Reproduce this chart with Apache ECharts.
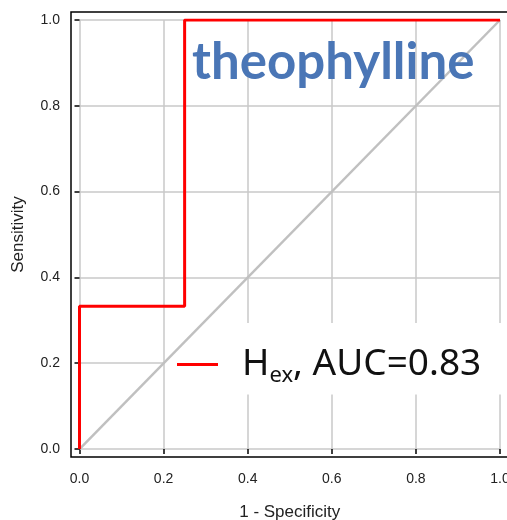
<!DOCTYPE html>
<html>
<head>
<meta charset="utf-8">
<script src="https://cdn.jsdelivr.net/npm/echarts@6/dist/echarts.min.js"></script>
<style>
  html, body { margin: 0; padding: 0; background: #fff; }
  #chart { width: 507px; height: 520px; }
</style>
</head>
<body>
<div id="chart"></div>
<script>
// ROC curve points (1 - specificity, sensitivity)
const fpr = [0, 0, 0.25, 0.25, 1];
const tpr = [0, 0.333, 0.333, 1, 1];
// reference diagonal
const chanceX = [0, 1];
const chanceY = [0, 1];
const axisMin = 0, axisMax = 1, axisStep = 0.2;
const drugName = 'theophylline';
const seriesName = 'Hex';
const aucText = ', AUC=0.83';

const zip = (xs, ys) => xs.map((x, i) => [x, ys[i]]);

let myChart = echarts.init(document.getElementById('chart'));

let option = {
  animation: false,
  title: {
    text: drugName,
    left: 187,
    top: 32,
    textStyle: {
      fontFamily: 'Lato',
      fontWeight: 'bold',
      fontSize: 51,
      color: '#4a76b6'
    }
  },
  legend: {
    data: [seriesName],
    left: 165,
    top: 323,
    z: 1, // above grid lines, below the curves
    backgroundColor: '#fff',
    padding: [23, 40, 8, 12],
    itemWidth: 41,
    itemHeight: 3,
    icon: 'rect',
    // g = gap between line and text, s = subscript
    formatter: () => '{g|}{h|H}{s|ex}{h|' + aucText + '}',
    textStyle: {
      rich: {
        g: { width: 19 },
        h: { fontFamily: 'Noto Sans', fontSize: 37, color: '#111' },
        s: { fontFamily: 'Noto Sans', fontSize: 22, color: '#111', padding: [22, 0, 0, 0] }
      }
    }
  },
  grid: [
    // data area
    { left: 79.5, right: 7, top: 20, bottom: 71, outerBoundsMode: 'none' },
    // outer frame
    { left: 71, right: -1, top: 12, bottom: 63, outerBoundsMode: 'none',
      show: true, borderColor: '#000', borderWidth: 1.5 }
  ],
  xAxis: [
    {
      gridIndex: 0,
      type: 'value',
      min: axisMin, max: axisMax, interval: axisStep,
      offset: 8,
      name: '1 - Specificity',
      nameLocation: 'middle',
      nameGap: 47,
      nameTextStyle: { fontFamily: 'Liberation Sans', fontSize: 17, color: '#222' },
      axisLine: { show: false },
      axisTick: { show: true, length: 5, lineStyle: { color: '#000', width: 1.5 } },
      axisLabel: { fontFamily: 'Liberation Sans', fontSize: 14, color: '#222', margin: 15,
        formatter: v => v.toFixed(1) },
      splitLine: { show: true, lineStyle: { color: '#c8c8c8', width: 1.5 } }
    },
    { gridIndex: 1, type: 'value', min: 0, max: 1, show: false }
  ],
  yAxis: [
    {
      gridIndex: 0,
      type: 'value',
      min: axisMin, max: axisMax, interval: axisStep,
      offset: 8.5,
      name: 'Sensitivity',
      nameLocation: 'middle',
      nameGap: 44,
      nameTextStyle: { fontFamily: 'Liberation Sans', fontSize: 17, color: '#222' },
      axisLine: { show: false },
      axisTick: { show: true, length: 5, lineStyle: { color: '#000', width: 1.5 } },
      axisLabel: { fontFamily: 'Liberation Sans', fontSize: 14, color: '#222', margin: 11,
        formatter: v => v.toFixed(1) },
      splitLine: { show: true, lineStyle: { color: '#c8c8c8', width: 1.5 } }
    },
    { gridIndex: 1, type: 'value', min: 0, max: 1, show: false }
  ],
  series: [
    {
      name: 'chance',
      type: 'line',
      xAxisIndex: 0, yAxisIndex: 0,
      data: zip(chanceX, chanceY),
      symbol: 'none',
      z: 3,
      lineStyle: { color: '#c0c0c0', width: 2.5 }
    },
    {
      name: seriesName,
      type: 'line',
      xAxisIndex: 0, yAxisIndex: 0,
      data: zip(fpr, tpr),
      symbol: 'none',
      color: '#ff0000',
      z: 4,
      lineStyle: { color: '#ff0000', width: 3 }
    }
  ]
};

myChart.setOption(option);
</script>
</body>
</html>
